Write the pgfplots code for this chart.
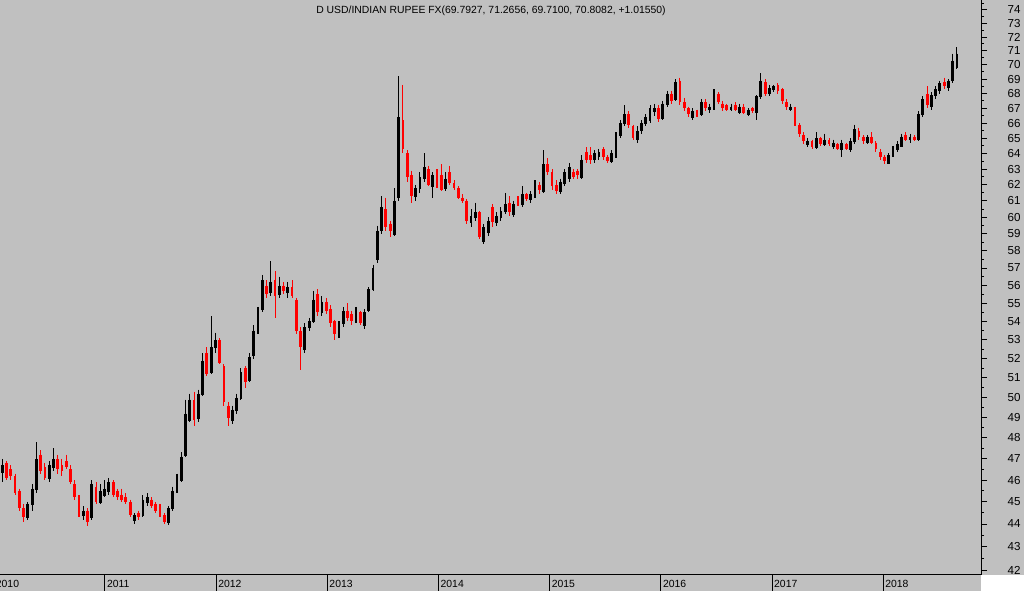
\documentclass[border=0pt]{standalone}
\usepackage{fontspec}
\setmainfont{Liberation Sans}
\usepackage{pgfplots}
\usepackage{pgfplotstable}
\pgfplotsset{compat=1.18}
\definecolor{bg}{RGB}{192,192,192}
\definecolor{dn}{RGB}{255,0,0}

\pgfplotstableread{
w o h l c
4 46.4 47.0 45.9 46.7
6 46.8 46.9 46.0 46.1
8 46.5 46.7 46.0 46.2
10 46.2 46.3 45.3 45.4
12 45.5 45.6 44.6 44.7
14 44.7 44.9 44.1 44.3
16 44.3 45.0 44.2 44.9
18 44.9 45.8 44.6 45.6
20 45.6 47.8 45.4 47.0
22 47.2 47.4 46.3 46.4
24 46.6 46.8 46.0 46.1
26 46.1 46.9 45.9 46.7
28 46.6 47.5 46.4 47.0
30 47.0 47.2 46.3 46.5
32 46.7 47.0 46.2 46.4
34 46.9 47.2 46.5 46.6
36 46.5 46.7 45.8 45.9
38 45.8 46.0 45.1 45.2
40 45.2 45.3 44.3 44.5
42 44.4 44.8 44.2 44.6
44 44.6 44.7 43.9 44.1
46 44.3 46.0 44.2 45.8
48 45.7 45.9 44.9 45.0
50 45.0 45.8 44.9 45.5
52 45.3 46.0 45.2 45.6
54 45.5 46.1 45.3 45.9
56 45.9 46.0 45.2 45.3
58 45.5 45.6 45.1 45.2
60 45.3 45.6 45.0 45.1
62 45.2 45.4 44.9 45.0
64 45.0 45.1 44.3 44.4
66 44.2 44.5 44.0 44.4
68 44.5 44.6 44.2 44.3
70 44.4 45.3 44.3 45.1
72 45.0 45.4 44.8 45.2
74 45.1 45.2 44.7 44.8
76 44.9 45.0 44.5 44.6
78 44.7 44.9 44.3 44.4
80 44.4 44.5 44.0 44.1
82 44.1 44.8 43.95 44.7
84 44.7 45.7 44.6 45.5
86 45.5 46.3 45.4 46.2
88 46.0 47.3 45.9 47.1
90 47.2 49.9 47.1 49.2
92 48.9 50.2 48.8 49.9
94 49.9 50.3 48.6 48.9
96 49.0 50.4 48.8 50.2
98 50.2 52.3 50.1 51.9
100 52.3 52.6 51.1 51.2
102 51.3 54.3 51.2 52.6
104 52.6 53.4 52.3 53.0
106 53.0 53.1 51.7 51.8
108 51.6 51.7 49.6 49.8
110 49.6 49.8 48.6 49.0
112 48.9 49.6 48.7 49.4
114 49.4 50.2 49.2 50.0
116 50.0 51.5 49.9 51.3
118 51.5 51.6 50.5 50.8
120 50.9 52.3 50.8 52.1
122 52.2 53.8 52.0 53.5
124 53.5 54.8 53.3 54.6
126 54.7 56.6 54.5 56.3
128 56.0 56.3 55.3 55.5
130 55.6 57.4 55.4 56.2
132 56.3 56.8 54.2 55.4
134 55.5 56.5 55.3 56.0
136 56.0 56.2 55.5 55.7
138 55.6 56.2 55.3 55.9
140 55.9 56.3 55.3 55.4
142 55.2 55.3 53.3 53.5
144 53.5 53.7 51.4 52.6
146 52.5 53.9 52.3 53.7
148 53.7 54.2 53.5 54.0
150 54.0 55.7 53.9 55.2
152 55.5 55.8 54.3 54.5
154 54.5 55.4 54.3 55.1
156 55.1 55.3 54.4 54.6
158 54.7 54.9 53.7 53.9
160 54.0 54.1 53.0 53.3
162 53.3 54.0 53.1 53.8
164 53.9 54.8 53.7 54.6
166 54.6 55.0 54.0 54.2
168 54.4 54.6 53.8 54.0
170 54.0 54.8 53.9 54.6
172 54.5 54.6 53.8 53.9
174 53.8 54.7 53.6 54.5
176 54.6 55.9 54.5 55.8
178 55.8 57.2 55.7 57.0
180 57.5 59.5 57.3 59.2
182 59.2 61.3 59.0 60.6
184 60.5 61.2 59.2 59.4
186 59.6 59.8 58.8 59.2
188 59.0 61.8 58.9 61.0
190 61.2 69.2 61.0 66.4
192 66.2 68.6 64.0 64.3
194 64.0 64.2 62.2 62.5
196 62.6 62.9 60.9 61.3
198 61.3 62.0 61.0 61.8
200 61.8 62.8 61.5 62.5
202 62.4 64.0 62.2 63.1
204 63.0 63.2 61.9 62.0
206 61.9 62.8 61.2 62.6
208 62.5 63.0 61.8 62.1
210 62.6 63.3 61.6 61.7
212 61.8 62.8 61.6 62.4
214 62.8 63.2 62.0 62.1
216 62.1 62.3 61.7 61.8
218 61.8 61.9 61.1 61.2
220 61.2 61.4 60.9 61.0
222 61.0 61.1 59.6 59.8
224 59.7 60.5 59.4 60.1
226 60.0 60.9 59.8 60.3
228 60.3 60.4 58.7 58.8
230 58.6 59.6 58.4 59.4
232 59.1 60.0 58.9 59.8
234 60.6 60.8 59.4 59.7
236 59.7 60.3 59.5 60.1
238 60.0 60.6 59.8 60.4
240 60.4 61.5 60.2 60.8
242 60.9 61.3 60.1 60.3
244 60.2 61.0 60.0 60.8
246 61.0 61.3 60.7 60.8
248 60.8 61.9 60.6 61.4
250 61.4 61.5 61.0 61.1
252 61.1 61.6 60.9 61.4
254 61.4 62.3 61.2 62.0
256 62.0 62.2 61.4 61.7
258 61.6 64.2 61.5 63.3
260 63.3 63.7 62.6 62.8
262 62.8 63.0 61.7 61.9
264 62.0 62.3 61.4 61.6
266 61.6 62.4 61.4 62.2
268 62.1 63.0 61.9 62.8
270 62.4 63.4 62.2 63.1
272 62.8 63.0 62.4 62.5
274 62.9 63.0 62.4 62.6
276 62.5 63.9 62.4 63.6
278 64.1 64.4 63.4 63.6
280 63.9 64.4 63.3 63.6
282 63.6 64.2 63.4 64.0
284 63.8 64.3 63.6 64.1
286 64.3 64.4 63.6 63.8
288 63.8 63.9 63.4 63.5
290 63.5 64.2 63.4 64.0
292 63.8 65.4 63.7 65.2
294 65.2 66.2 65.0 66.0
296 66.0 67.2 65.8 66.6
298 66.6 66.8 65.7 65.9
300 65.8 65.9 64.9 65.0
302 64.9 65.8 64.7 65.5
304 65.5 66.2 65.3 66.0
306 66.0 66.6 65.8 66.4
308 66.2 67.2 66.0 67.0
310 66.8 67.3 66.5 67.0
312 67.0 67.2 66.1 66.3
314 66.3 67.5 66.2 67.3
316 67.3 68.2 67.1 68.0
318 68.0 68.2 67.3 67.5
320 67.6 69.0 67.5 68.8
322 68.9 69.1 67.2 67.4
324 67.4 67.7 66.8 67.0
326 67.0 67.1 66.4 66.6
328 66.4 67.0 66.2 66.8
330 66.8 66.9 66.4 66.6
332 66.6 67.6 66.5 67.4
334 67.4 67.6 66.8 67.0
336 66.9 67.3 66.7 67.1
338 67.0 68.3 66.9 68.1
340 68.0 68.1 67.3 67.4
342 67.3 67.5 66.8 67.0
344 67.2 67.3 66.8 66.9
346 66.9 67.3 66.8 67.1
348 67.2 67.4 66.8 66.9
350 66.7 67.3 66.6 67.1
352 67.1 67.3 66.6 66.7
354 66.6 67.0 66.5 66.9
356 67.0 67.1 66.7 66.8
358 66.7 67.9 66.2 67.8
360 67.8 69.4 67.6 68.9
362 68.8 69.0 67.8 68.0
364 68.0 68.6 67.8 68.4
366 68.3 68.6 68.1 68.5
368 68.6 68.7 68.0 68.2
370 68.3 68.4 67.3 67.5
372 67.4 67.6 66.9 67.1
374 66.9 67.3 66.8 67.1
376 67.0 67.1 65.8 66.0
378 65.9 66.0 65.1 65.3
380 65.2 65.4 64.6 64.8
382 64.6 65.0 64.4 64.8
384 64.8 64.9 64.3 64.4
386 64.4 65.4 64.3 65.0
388 65.0 65.1 64.5 64.6
390 64.6 65.3 64.5 64.9
392 64.9 65.0 64.5 64.6
394 64.5 64.9 64.3 64.7
396 64.6 64.7 64.2 64.3
398 64.3 64.9 63.8 64.7
400 64.6 64.7 64.2 64.3
402 64.3 65.0 64.1 64.8
404 64.8 65.9 64.6 65.6
406 65.5 65.7 64.9 65.1
408 65.1 65.2 64.6 64.8
410 64.7 65.2 64.6 65.1
412 65.1 65.4 64.6 64.7
414 64.7 64.8 64.1 64.3
416 64.1 64.3 63.6 63.8
418 63.8 63.9 63.3 63.5
420 63.4 64.0 63.3 63.9
422 63.9 64.5 63.8 64.3
424 64.3 64.8 64.1 64.6
426 64.5 65.3 64.4 65.1
428 65.2 65.4 64.8 64.9
430 64.9 65.3 64.7 65.1
432 65.1 65.2 64.8 64.9
434 64.9 66.8 64.8 66.6
436 66.6 67.8 66.4 67.6
438 68.0 68.5 67.0 67.2
440 67.1 68.1 66.9 67.9
442 67.9 68.5 67.6 68.3
444 68.2 68.9 68.0 68.7
446 68.8 69.1 68.3 68.5
448 68.4 69.0 68.2 68.9
450 68.9 70.8 68.7 70.3
452 69.79 71.27 69.71 70.81
}\fx

\newcommand{\lf}{\fontsize{7.8}{9}\selectfont}
\newcommand{\yf}{\fontsize{8.7}{9}\selectfont}

\begin{document}
\begin{tikzpicture}
\fill[bg] (0pt,0pt) rectangle (768pt,443.25pt);
\fill[white] (735.75pt,0pt) rectangle (768pt,12pt);
\useasboundingbox (0pt,0pt) rectangle (768pt,443.25pt);
\begin{axis}[
  at={(-4.67pt,12pt)}, anchor=south west,
  width=740.42pt, height=431.25pt, scale only axis,
  xmin=0, xmax=463.3,
  ymode=log, ymin=41.79, ymax=74.75,
  axis x line*=bottom, axis y line*=right,
  axis line style={black, line width=0.75pt, -},
  tick align=outside,
  tick style={black, line width=0.75pt},
  major tick length=4.5pt, minor tick length=2.3pt,
  xtick={0,52.1786,104.357,156.536,208.714,260.893,313.071,365.25,417.429},
  xticklabels={2010,2011,2012,2013,2014,2015,2016,2017,2018},
  minor x tick num=11,
  xtick style={/pgfplots/major tick length=12pt},
  xticklabel style={anchor=base west, inner sep=0pt, font=\lf, xshift=1.4pt, yshift=-5pt},
  ytick={42,43,44,45,46,47,48,49,50,51,52,53,54,55,56,57,58,59,60,61,62,63,64,65,66,67,68,69,70,71,72,73,74},
  yticklabels={42,43,44,45,46,47,48,49,50,51,52,53,54,55,56,57,58,59,60,61,62,63,64,65,66,67,68,69,70,71,72,73,74},
  minor ytick={42.5,43.5,44.5,45.5,46.5,47.5,48.5,49.5,50.5,51.5,52.5,53.5,54.5,55.5,56.5,57.5,58.5,59.5,60.5,61.5,62.5,63.5,64.5,65.5,66.5,67.5,68.5,69.5,70.5,71.5,72.5,73.5,74.5},
  yticklabel style={anchor=west, inner sep=0pt, font=\yf, xshift=15.3pt},
  clip=true,
]
% wicks up
\addplot[draw=none, mark=none, forget plot,
  restrict expr to domain={\thisrow{c}-\thisrow{o}}{0:100},
  error bars/.cd, y dir=minus, y explicit, error mark=none,
  error bar style={draw=black, solid, line width=0.8pt}]
  table[x=w, y=h, y error minus expr={\thisrow{h}-\thisrow{l}}] {\fx};
% bodies up
\addplot[draw=none, mark=none, forget plot,
  restrict expr to domain={\thisrow{c}-\thisrow{o}}{0:100},
  error bars/.cd, y dir=minus, y explicit, error mark=none,
  error bar style={draw=black, solid, line width=2.1pt}]
  table[x=w, y=c, y error minus expr={\thisrow{c}-\thisrow{o}+0.05}] {\fx};
% wicks down
\addplot[draw=none, mark=none, forget plot,
  restrict expr to domain={\thisrow{o}-\thisrow{c}}{0.0001:100},
  error bars/.cd, y dir=minus, y explicit, error mark=none,
  error bar style={draw=dn, solid, line width=0.8pt}]
  table[x=w, y=h, y error minus expr={\thisrow{h}-\thisrow{l}}] {\fx};
% bodies down
\addplot[draw=none, mark=none, forget plot,
  restrict expr to domain={\thisrow{o}-\thisrow{c}}{0.0001:100},
  error bars/.cd, y dir=minus, y explicit, error mark=none,
  error bar style={draw=dn, solid, line width=2.1pt}]
  table[x=w, y=o, y error minus expr={\thisrow{o}-\thisrow{c}}] {\fx};
\end{axis}
\node[anchor=base, font=\lf, inner sep=0pt] at (368.25pt,432.9pt)
  {D USD/INDIAN RUPEE FX(69.7927, 71.2656, 69.7100, 70.8082, +1.01550)};
\end{tikzpicture}
\end{document}
